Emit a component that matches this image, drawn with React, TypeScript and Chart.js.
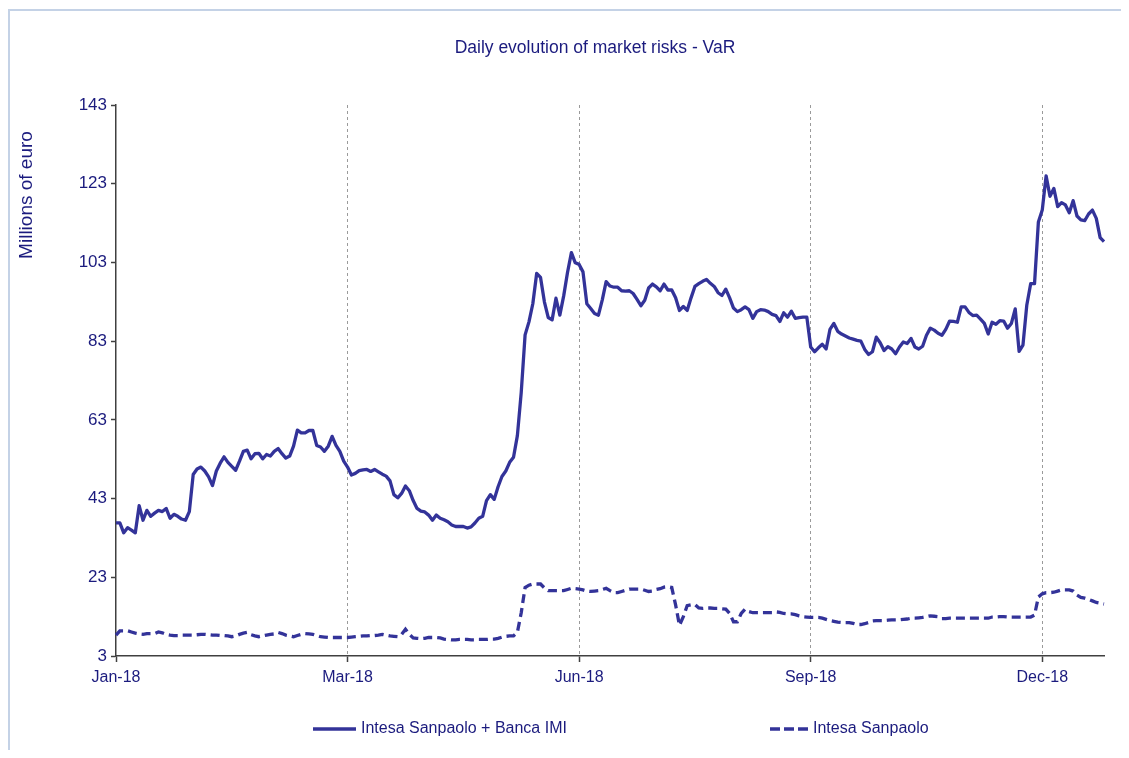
import React, { useEffect, useRef } from "react";
import { Chart, registerables } from "chart.js";

Chart.register(...registerables);

// ---------- data ----------
const chartTitle = "Daily evolution of market risks - VaR";
const yAxisTitle = "Millions of euro";
const seriesNames = ["Intesa Sanpaolo + Banca IMI", "Intesa Sanpaolo"];
const tickLabels = ["Jan-18", "Mar-18", "Jun-18", "Sep-18", "Dec-18"];
const tickEvery = 60; // trading days between labelled ticks
const yMin = 3;
const yMax = 143;
const yStep = 20;

// Intesa Sanpaolo + Banca IMI, daily VaR (millions of euro)
const groupVaR = [
  36.8, 36.8, 34.3, 35.6, 35.0, 34.3, 41.2, 37.5, 40.0, 38.5,
  39.3, 40.0, 39.7, 40.5, 38.0, 39.0, 38.5, 37.8, 37.5, 39.7,
  49.1, 50.5, 51.0, 50.0, 48.5, 46.3, 50.0, 52.0, 53.6, 52.2,
  51.2, 50.2, 52.5, 55.0, 55.3, 53.1, 54.4, 54.5, 53.1, 54.2,
  53.8, 55.0, 55.7, 54.4, 53.3, 53.8, 56.3, 60.4, 59.7, 59.7,
  60.3, 60.3, 56.5, 56.1, 55.0, 56.3, 58.8, 56.5, 55.0, 52.5,
  51.0, 49.0, 49.4, 50.1, 50.3, 50.4, 49.9, 50.4, 49.8, 49.2,
  48.7, 47.5, 44.0, 43.2, 44.3, 46.2, 45.0, 42.5, 40.5, 39.8,
  39.6, 38.8, 37.5, 38.8, 38.0, 37.6, 37.1, 36.3, 35.9, 35.9,
  35.9, 35.5, 35.8, 36.8, 38.0, 38.5, 42.5, 44.0, 42.8, 46.0,
  48.6, 50.0, 52.2, 53.5, 59.0, 70.0, 84.6, 87.9, 92.5, 100.2,
  99.2, 93.0, 89.0, 88.4, 93.9, 89.6, 94.5, 100.5, 105.5, 102.9,
  102.5, 100.6, 92.5, 91.3, 90.0, 89.6, 93.5, 98.1, 97.0, 96.7,
  96.7, 95.8, 95.7, 95.8, 95.1, 93.6, 92.0, 93.4, 96.5, 97.5,
  96.8, 95.8, 97.5, 96.0, 96.0, 94.0, 90.8, 91.8, 90.8, 94.0,
  96.9, 97.6, 98.2, 98.7, 97.7, 96.9, 95.3, 94.6, 96.2, 94.0,
  91.4, 90.5, 91.0, 91.7, 91.0, 88.8, 90.5, 91.0, 90.9, 90.5,
  89.8, 89.5, 88.0, 90.2, 89.1, 90.6, 88.8, 89.0, 89.1, 89.1,
  81.5, 80.3, 81.3, 82.2, 81.0, 86.0, 87.5, 85.5, 84.8, 84.3,
  83.8, 83.5, 83.2, 83.0, 80.9, 79.6, 80.3, 84.0, 82.6, 80.6,
  81.6, 81.0, 79.8, 81.5, 82.8, 82.4, 83.7, 81.5, 81.0, 81.7,
  84.5, 86.3, 85.8, 85.0, 84.5, 86.0, 88.1, 88.0, 87.8, 91.7,
  91.7, 90.3, 89.5, 89.6, 88.6, 87.5, 84.8, 87.8, 87.3, 88.2,
  88.1, 86.3, 87.5, 91.2, 80.4, 82.0, 92.2, 97.6, 97.6, 113.3,
  116.3, 125.0, 119.8, 121.8, 117.2, 118.2, 117.6, 115.6, 118.7, 114.8,
  113.8, 113.6, 115.3, 116.3, 114.2, 109.3, 108.3,
];

// Intesa Sanpaolo, daily VaR (millions of euro)
const ispVaR = [
  8.3, 9.4, 9.4, 9.4, 9.1, 8.8, 8.6, 8.5, 8.7, 8.7,
  8.7, 9.1, 8.9, 8.5, 8.3, 8.2, 8.2, 8.3, 8.3, 8.3,
  8.3, 8.4, 8.5, 8.5, 8.4, 8.3, 8.3, 8.2, 8.2, 8.1,
  7.9, 8.1, 8.5, 8.8, 9.0, 8.4, 8.1, 7.9, 8.1, 8.3,
  8.5, 8.6, 9.0, 8.7, 8.3, 8.1, 7.9, 8.2, 8.5, 8.7,
  8.6, 8.5, 8.2, 7.9, 7.8, 7.7, 7.7, 7.7, 7.7, 7.7,
  7.7, 7.8, 7.9, 8.0, 8.1, 8.1, 8.2, 8.2, 8.3, 8.5,
  8.3, 8.1, 8.0, 7.9, 8.5, 9.8, 8.5, 7.6, 7.5, 7.4,
  7.5, 7.7, 7.7, 7.7, 7.6, 7.3, 7.2, 7.1, 7.1, 7.2,
  7.2, 7.2, 7.1, 7.1, 7.2, 7.2, 7.2, 7.3, 7.3, 7.5,
  7.8, 8.0, 8.1, 8.1, 9.0, 14.0, 20.4, 21.0, 21.3, 21.3,
  21.3, 20.3, 19.6, 19.6, 19.6, 19.6, 19.6, 19.9, 20.2, 20.1,
  20.0, 19.8, 19.5, 19.4, 19.5, 19.6, 19.9, 20.2, 19.6, 19.1,
  19.1, 19.4, 19.7, 20.0, 20.0, 20.0, 20.0, 19.7, 19.4, 19.5,
  19.9, 20.1, 20.5, 20.6, 20.4, 16.0, 10.8, 13.0, 15.8, 16.0,
  16.1, 15.2, 15.1, 15.2, 15.2, 15.1, 15.1, 15.0, 14.9, 13.8,
  11.7, 11.7, 13.8, 14.9, 14.3, 14.0, 14.0, 14.0, 14.0, 14.0,
  14.0, 14.2, 14.1, 13.8, 13.7, 13.7, 13.5, 13.2, 13.0, 12.9,
  12.8, 12.8, 12.8, 12.6, 12.3, 12.0, 11.8, 11.6, 11.5, 11.5,
  11.5, 11.3, 11.0, 11.0, 11.2, 11.5, 11.9, 12.0, 12.0, 12.0,
  12.1, 12.2, 12.2, 12.2, 12.3, 12.4, 12.6, 12.6, 12.7, 12.8,
  13.0, 13.2, 13.1, 13.0, 12.5, 12.5, 12.6, 12.6, 12.6, 12.6,
  12.6, 12.6, 12.6, 12.6, 12.6, 12.6, 12.6, 12.9, 12.9, 13.0,
  13.0, 12.9, 12.9, 12.9, 12.9, 12.9, 12.9, 12.9, 13.4, 18.0,
  18.8, 19.1, 19.1, 19.2, 19.5, 19.8, 19.8, 19.8, 19.5, 18.5,
  17.9, 17.7, 17.4, 17.0, 16.6, 16.4, 16.2,
];

// trading-day categories (1..N)
const tradingDays = groupVaR.map((_, i) => String(i + 1));

// ---------- styles ----------
const FONT = "'Liberation Sans', Arial, sans-serif";
const TEXT = "#1B1B7E";
const LINE = "#333399";
const AXIS = "#404040";
const GRID = "#9a9a9a";
const DASH = [9, 5];

const tickValue = (c: any): number =>
  c && c.tick && typeof c.tick.value === "number" ? c.tick.value : -1;

const decorPlugin = {
  id: "decor",
  afterDraw(chart: any) {
    const { ctx } = chart;
    ctx.save();
    ctx.fillStyle = TEXT;
    // title
    ctx.font = `17.5px ${FONT}`;
    ctx.textAlign = "center";
    ctx.textBaseline = "middle";
    ctx.fillText(chartTitle, 587, 40);
    // y-axis title
    ctx.save();
    ctx.translate(19, 187);
    ctx.rotate(-Math.PI / 2);
    ctx.font = `19px ${FONT}`;
    ctx.fillText(yAxisTitle, 0, 0);
    ctx.restore();
    // legend
    const items = [
      { x: 305, w: 43, dash: [] as number[] },
      { x: 762, w: 38, dash: [10, 4] },
    ];
    const ly = 721;
    ctx.font = `16px ${FONT}`;
    ctx.textAlign = "left";
    chart.data.datasets.forEach((ds: any, i: number) => {
      const it = items[i];
      ctx.save();
      ctx.strokeStyle = ds.borderColor;
      ctx.lineWidth = 3.5;
      ctx.setLineDash(it.dash);
      ctx.beginPath();
      ctx.moveTo(it.x, ly);
      ctx.lineTo(it.x + it.w, ly);
      ctx.stroke();
      ctx.restore();
      ctx.fillStyle = TEXT;
      ctx.fillText(ds.label, it.x + it.w + 5, ly);
    });
    ctx.restore();
  },
};

export default function App() {
  const ref = useRef<HTMLCanvasElement | null>(null);

  useEffect(() => {
    if (!ref.current) return;
    const chart = new Chart(ref.current, {
      type: "line",
      data: {
        labels: tradingDays,
        datasets: [
          {
            label: seriesNames[0],
            data: groupVaR,
            borderColor: LINE,
            backgroundColor: LINE,
            borderWidth: 3.3,
            pointRadius: 0,
            tension: 0,
            fill: false,
            borderJoinStyle: "round",
          },
          {
            label: seriesNames[1],
            data: ispVaR,
            borderColor: LINE,
            backgroundColor: LINE,
            borderWidth: 3.3,
            borderDash: DASH,
            pointRadius: 0,
            tension: 0,
            fill: false,
          },
        ],
      },
      options: {
        animation: false,
        responsive: false,
        maintainAspectRatio: false,
        layout: { padding: { top: 97, right: 17, bottom: 54, left: 0 } },
        plugins: {
          legend: { display: false },
          title: { display: false },
          tooltip: { enabled: false },
        },
        scales: {
          x: {
            type: "category",
            offset: false,
            grid: {
              color: (c: any) => {
                const v = tickValue(c);
                return v > 0 && v % tickEvery === 0 ? GRID : "rgba(0,0,0,0)";
              },
              tickColor: (c: any) => {
                const v = tickValue(c);
                return v >= 0 && v % tickEvery === 0 ? AXIS : "rgba(0,0,0,0)";
              },
              borderDash: [3, 3],
              tickBorderDash: [],
              lineWidth: 1,
              tickWidth: 1.5,
              tickLength: 6,
              drawTicks: true,
            } as any,
            border: { color: AXIS, width: 1.5, dash: [3, 3] },
            ticks: {
              autoSkip: false,
              maxTicksLimit: 1000,
              maxRotation: 0,
              minRotation: 0,
              padding: 6,
              color: TEXT,
              font: { family: FONT, size: 16 },
              callback: (_v: any, i: number) =>
                i % tickEvery === 0 ? tickLabels[i / tickEvery] : null,
            },
            afterFit: (s: any) => {
              s.height = 40;
            },
          },
          y: {
            min: yMin,
            max: yMax,
            ticks: {
              stepSize: yStep,
              color: TEXT,
              padding: 4,
              font: { family: FONT, size: 17 },
            },
            grid: {
              drawOnChartArea: false,
              tickLength: 5,
              tickColor: AXIS,
              tickWidth: 1.5,
            },
            border: { color: AXIS, width: 1.5 },
            afterFit: (s: any) => {
              s.width = 108;
            },
          },
        },
      },
      plugins: [decorPlugin],
    });
    return () => chart.destroy();
  }, []);

  return (
    <div style={{ position: "relative", width: 1113, height: 742 }}>
      <div
        style={{
          position: "absolute",
          left: 0,
          top: 1,
          right: 0,
          bottom: 0,
          borderTop: "2px solid #c4d2e6",
          borderLeft: "2px solid #c4d2e6",
        }}
      />
      <canvas
        ref={ref}
        width={1113}
        height={742}
        style={{ position: "absolute", left: 0, top: 0, width: 1113, height: 742 }}
      />
    </div>
  );
}
